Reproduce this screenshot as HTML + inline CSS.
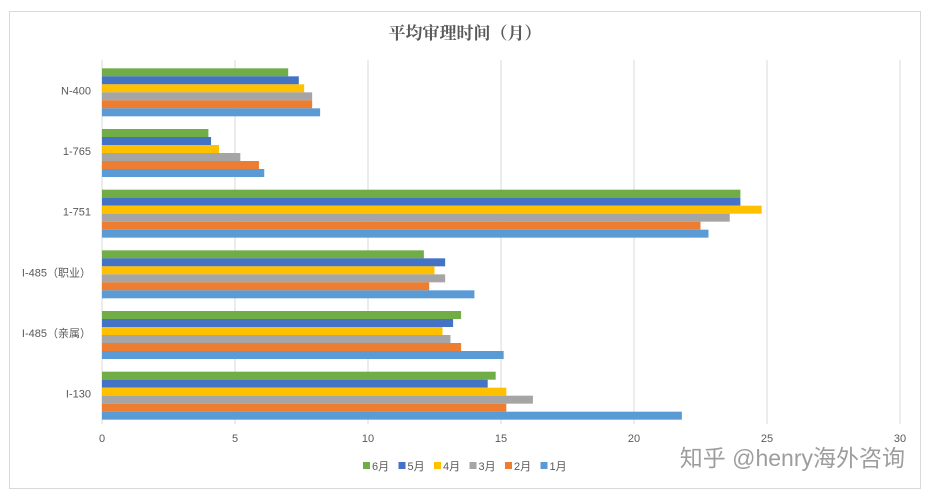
<!DOCTYPE html>
<html><head><meta charset="utf-8">
<style>
body{margin:0;background:#fff;width:929px;height:498px;overflow:hidden;font-family:"Liberation Sans","Noto Sans CJK SC",sans-serif;}
svg text{font-family:"Liberation Sans","Noto Sans CJK SC",sans-serif;}
</style></head>
<body>
<svg id="chart" width="929" height="498" xmlns="http://www.w3.org/2000/svg">
<rect x="9.5" y="11.5" width="911" height="477" fill="#fff" stroke="#d9d9d9"/>
<text x="465" y="39" text-anchor="middle" font-size="17" font-weight="bold" fill="#595959" style="font-family:'Liberation Serif','Noto Serif CJK SC',serif">平均审理时间（月）</text>
<g id="grid"></g><g id="bars"></g><g id="labels"></g><g id="legend"></g>
<text x="905" y="466" text-anchor="end" font-size="23" fill="#8c8c8c" opacity="0.85">知乎 @henry海外咨询</text>
</svg>
<script>
const categories=["N-400","1-765","1-751","I-485（职业）","I-485（亲属）","I-130"];
const seriesNames=["6月","5月","4月","3月","2月","1月"];
const s6=[7.0,4.0,24.0,12.1,13.5,14.8];
const s5=[7.4,4.1,24.0,12.9,13.2,14.5];
const s4=[7.6,4.4,24.8,12.5,12.8,15.2];
const s3=[7.9,5.2,23.6,12.9,13.1,16.2];
const s2=[7.9,5.9,22.5,12.3,13.5,15.2];
const s1=[8.2,6.1,22.8,14.0,15.1,21.8];
const xTicks=[0,5,10,15,20,25,30];
const series=[s6,s5,s4,s3,s2,s1];
const colors=["#70AD47","#4472C4","#FFC000","#A5A5A5","#ED7D31","#5B9BD5"];
const NS="http://www.w3.org/2000/svg";
const x0=102,x1=900,yTop=60,yBot=424;
const xs=v=>x0+(v/30)*(x1-x0);
const band=(yBot-yTop)/categories.length, bh=8;
function mk(t,a,p){const e=document.createElementNS(NS,t);for(const k in a)e.setAttribute(k,a[k]);p.appendChild(e);return e;}
const g=document.getElementById('grid'),b=document.getElementById('bars'),l=document.getElementById('labels'),lg=document.getElementById('legend');
xTicks.forEach(t=>{
 const ln=mk('line',{x1:xs(t),x2:xs(t),y1:yTop,y2:yBot,stroke:'#d9d9d9','stroke-width':1},g);
 
 
 const tx=mk('text',{x:xs(t),y:442,'text-anchor':'middle','font-size':11,fill:'#595959'},l);
 tx.textContent=t;
 
 
});
categories.forEach((c,i)=>{
 const gs=yTop+i*band+(band-bh*6)/2+2;
 series.forEach((s,j)=>{
  const r=mk('rect',{x:x0,y:gs+j*bh,width:xs(s[i])-x0,height:bh,fill:colors[j]},b);
  
  
 });
 const tx=mk('text',{x:91,y:yTop+i*band+band/2+4,'text-anchor':'end','font-size':11,fill:'#595959'},l);
 tx.textContent=c;
 
 
});
let lx=363;
seriesNames.forEach((n,j)=>{
 const r=mk('rect',{x:lx,y:462,width:7,height:7,fill:colors[j]},lg);
 
 
 const t=mk('text',{x:lx+9,y:470,'font-size':11,fill:'#595959'},lg);
 t.textContent=n;
 
 
 lx+=35.5;
});
</script>
</body></html>
